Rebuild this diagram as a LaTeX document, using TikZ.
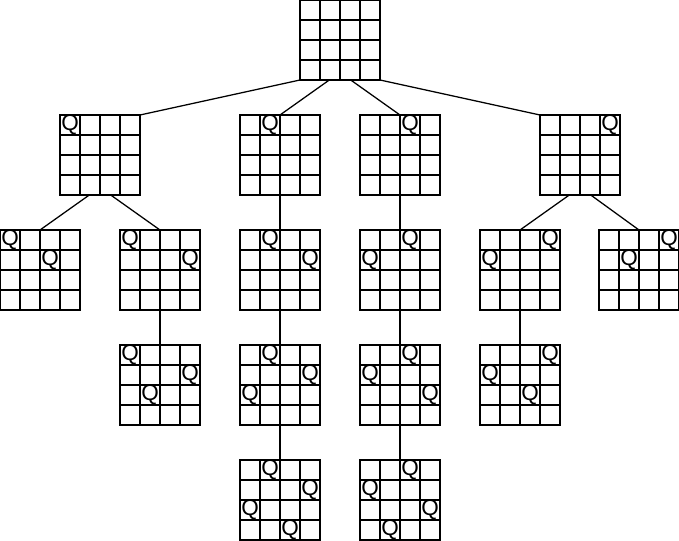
\documentclass[tikz,border=0pt]{standalone}
\usepackage{fontspec}
\setmainfont{Liberation Sans}
\usetikzlibrary{calc}
\tikzset{
	board/.style={draw, line width=0.9pt, minimum size=2cm, inner sep=0pt, outer sep=0pt},
	queen/.style={font=\fontsize{16}{16}\selectfont, inner sep=0pt},
	link/.style={line width=0.9pt}
}
\newcommand{\board}[2]{%
	\node[board] (#1) at (#2) {};
	\foreach \k in {0.5,1,1.5} {
		\draw[link] ($(#1.north west)+(\k,0)$) -- ($(#1.south west)+(\k,0)$);
		\draw[link] ($(#1.north west)+(0,-\k)$) -- ($(#1.north east)+(0,-\k)$);
	}
}
\newcommand{\queens}[2]{%
	\foreach \r/\c in {#2} {
		\node[queen] (#1-\r\c) at ($(#1.north west)+(\c*0.5-0.25,0.25-\r*0.5)$) {Q};
	}
}
\begin{document}
\begin{tikzpicture}
	\useasboundingbox (0,0) rectangle (16.975,13.5);

	\board{root}{8.5,12.5}
	\board{q1}{2.5,9.625}
	\board{q2}{7,9.625}
	\board{q3}{10,9.625}
	\board{q4}{14.5,9.625}
	\board{q13}{1,6.75}
	\board{q14}{4,6.75}
	\board{q24}{7,6.75}
	\board{q31}{10,6.75}
	\board{q41}{13,6.75}
	\board{q42}{15.975,6.75}
	\board{q142}{4,3.875}
	\board{q241}{7,3.875}
	\board{q314}{10,3.875}
	\board{q413}{13,3.875}
	\board{q2413}{7,1}
	\board{q3142}{10,1}

	\queens{q1}{1/1}
	\queens{q2}{1/2}
	\queens{q3}{1/3}
	\queens{q4}{1/4}
	\queens{q13}{1/1,2/3}
	\queens{q14}{1/1,2/4}
	\queens{q24}{1/2,2/4}
	\queens{q31}{1/3,2/1}
	\queens{q41}{1/4,2/1}
	\queens{q42}{1/4,2/2}
	\queens{q142}{1/1,2/4,3/2}
	\queens{q241}{1/2,2/4,3/1}
	\queens{q314}{1/3,2/1,3/4}
	\queens{q413}{1/4,2/1,3/3}
	\queens{q2413}{1/2,2/4,3/1,4/3}
	\queens{q3142}{1/3,2/1,3/4,4/2}

	% search tree
	\draw[link] (root.south west) -- (q1.north east);
	\draw[link] (root.255) -- (q2.north);
	\draw[link] (root.285) -- (q3.north);
	\draw[link] (root.south east) -- (q4.north west);
	\draw[link] (q1.255) -- (q13.north);
	\draw[link] (q1.285) -- (q14.north);
	\draw[link] (q14.south) -- (q142.north);
	\draw[link] (q2.south) -- (q24.north);
	\draw[link] (q24.south) -- (q241.north);
	\draw[link] (q241.south) -- (q2413.north);
	\draw[link] (q3.south) -- (q31.north);
	\draw[link] (q31.south) -- (q314.north);
	\draw[link] (q314.south) -- (q3142.north);
	\draw[link] (q4.255) -- (q41.north);
	\draw[link] (q4.285) -- (q42.north);
	\draw[link] (q41.south) -- (q413.north);
\end{tikzpicture}
\end{document}
